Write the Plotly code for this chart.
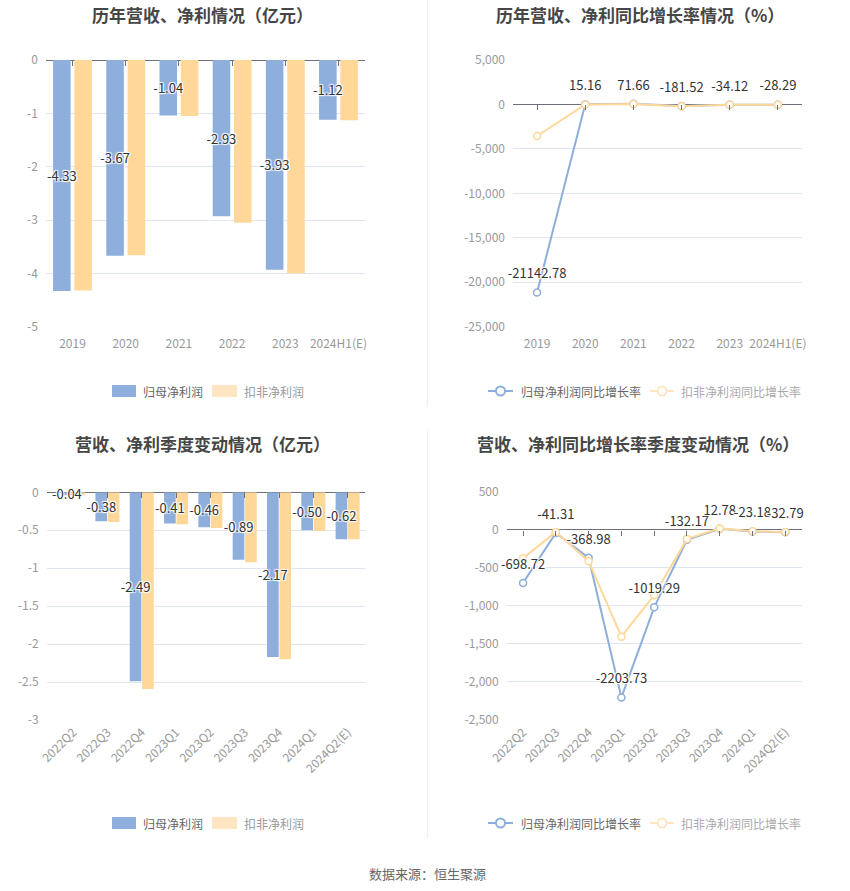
import plotly.graph_objects as go

# ---------------- data ----------------
years = ["2019", "2020", "2021", "2022", "2023", "2024H1(E)"]
np_year = [-4.33, -3.67, -1.04, -2.93, -3.93, -1.12]
kf_year = [-4.32, -3.66, -1.05, -3.05, -4.00, -1.13]

np_yoy = [-21142.78, 15.16, 71.66, -181.52, -34.12, -28.29]
kf_yoy = [-3550.0, 5.0, 60.0, -205.0, -30.0, -30.0]

quarters = ["2022Q2", "2022Q3", "2022Q4", "2023Q1", "2023Q2", "2023Q3",
            "2023Q4", "2024Q1", "2024Q2(E)"]
np_q = [-0.04, -0.38, -2.49, -0.41, -0.46, -0.89, -2.17, -0.50, -0.62]
kf_q = [-0.04, -0.39, -2.59, -0.42, -0.47, -0.92, -2.20, -0.51, -0.62]

np_q_yoy = [-698.72, -41.31, -368.98, -2203.73, -1019.29, -132.17, 12.78, -23.18, -32.79]
kf_q_yoy = [-375.0, -28.0, -415.0, -1405.0, -860.0, -120.0, 18.0, -20.0, -30.0]

titles = ["历年营收、净利情况（亿元）", "历年营收、净利同比增长率情况（%）",
          "营收、净利季度变动情况（亿元）", "营收、净利同比增长率季度变动情况（%）"]
bar_names = ["归母净利润", "扣非净利润"]
line_names = ["归母净利润同比增长率", "扣非净利润同比增长率"]
source_text = "数据来源：恒生聚源"

# ---------------- style ----------------
W, H = 850, 891
BLUE = "#8eaedb"
ORANGE = "#ffd899"
ORANGE_LEG = "#ffe6c2"
GRID = "#e0e6f1"
AXIS = "#6e7079"
TICK = "#999999"
FONT = "Noto Sans CJK SC, Microsoft YaHei, sans-serif"
SHADOW = "1px 1px 1px #fff, -1px -1px 1px #fff, 1px -1px 1px #fff, -1px 1px 1px #fff"


def px_x(x):
    return x / W


def px_y(y):
    return 1 - y / H


def fmt(v):
    return f"{v:.2f}"


def ticktexts(vals, comma=False):
    out = []
    for v in vals:
        s = f"{abs(v):,.0f}" if comma else f"{abs(v):g}"
        out.append(("-" if v < 0 else "") + s)
    return out


LABEL_FONT = dict(color="#333", size=13, shadow=SHADOW, family=FONT)
fig = go.Figure()

# ---- top-left bars (orange first so blue labels sit on top) ----
fig.add_trace(go.Bar(x=years, y=kf_year, name=bar_names[1], marker_color=ORANGE,
                     width=0.33, offset=0.035, xaxis="x", yaxis="y", showlegend=False))
fig.add_trace(go.Bar(x=years, y=np_year, name=bar_names[0], marker_color=BLUE,
                     width=0.33, offset=-0.365, text=[fmt(v) for v in np_year],
                     textposition="inside", insidetextanchor="middle", textangle=0,
                     constraintext="none", cliponaxis=False, textfont=LABEL_FONT,
                     xaxis="x", yaxis="y", showlegend=False))

# ---- top-right lines ----
fig.add_trace(go.Scatter(x=years, y=np_yoy, name=line_names[0], mode="lines+markers",
                         line=dict(color=BLUE, width=2),
                         marker=dict(symbol="circle", size=7, color="white",
                                     line=dict(color=BLUE, width=1.5)),
                         cliponaxis=False, xaxis="x2", yaxis="y2", showlegend=False))
fig.add_trace(go.Scatter(x=years, y=kf_yoy, name=line_names[1], mode="lines+markers",
                         line=dict(color=ORANGE, width=2),
                         marker=dict(symbol="circle", size=7, color="white",
                                     line=dict(color=ORANGE, width=1.5)),
                         cliponaxis=False, xaxis="x2", yaxis="y2", showlegend=False))
fig.add_trace(go.Scatter(x=years, y=np_yoy, mode="markers+text",
                         marker=dict(size=16, color="rgba(0,0,0,0)"),
                         text=[fmt(v) for v in np_yoy], textposition="top center",
                         textfont=LABEL_FONT, cliponaxis=False,
                         xaxis="x2", yaxis="y2", showlegend=False, hoverinfo="skip"))

# ---- bottom-left bars ----
fig.add_trace(go.Bar(x=quarters, y=kf_q, name=bar_names[1], marker_color=ORANGE,
                     width=0.34, offset=0.01, xaxis="x3", yaxis="y3", showlegend=False))
fig.add_trace(go.Bar(x=quarters, y=np_q, name=bar_names[0], marker_color=BLUE,
                     width=0.34, offset=-0.35, text=[fmt(v) for v in np_q],
                     textposition="inside", insidetextanchor="middle", textangle=0,
                     constraintext="none", cliponaxis=False, textfont=LABEL_FONT,
                     xaxis="x3", yaxis="y3", showlegend=False))

# ---- bottom-right lines ----
fig.add_trace(go.Scatter(x=quarters, y=np_q_yoy, name=line_names[0], mode="lines+markers",
                         line=dict(color=BLUE, width=2),
                         marker=dict(symbol="circle", size=7, color="white",
                                     line=dict(color=BLUE, width=1.5)),
                         cliponaxis=False, xaxis="x4", yaxis="y4", showlegend=False))
fig.add_trace(go.Scatter(x=quarters, y=kf_q_yoy, name=line_names[1], mode="lines+markers",
                         line=dict(color=ORANGE, width=2),
                         marker=dict(symbol="circle", size=7, color="white",
                                     line=dict(color=ORANGE, width=1.5)),
                         cliponaxis=False, xaxis="x4", yaxis="y4", showlegend=False))
fig.add_trace(go.Scatter(x=quarters, y=np_q_yoy, mode="markers+text",
                         marker=dict(size=16, color="rgba(0,0,0,0)"),
                         text=[fmt(v) for v in np_q_yoy], textposition="top center",
                         textfont=LABEL_FONT, cliponaxis=False,
                         xaxis="x4", yaxis="y4", showlegend=False, hoverinfo="skip"))

# dummy traces for the zero-line tick axes
for xa, ya in [("x5", "y"), ("x6", "y2"), ("x7", "y3"), ("x8", "y4")]:
    fig.add_trace(go.Scatter(x=[None], y=[None], xaxis=xa, yaxis=ya,
                             showlegend=False, hoverinfo="skip"))

# ---------------- axes ----------------
panels = {
    "1": ((45.9, 365.1), (60, 326.7), (-5, 0), 1, False, years, (-0.5, 5.5), 0),
    "2": ((513, 802), (60, 326.7), (-25000, 5000), 5000, True, years, (-0.5, 5.5), 0),
    "3": ((46.7, 364.8), (492.3, 720), (-3, 0), 0.5, False, quarters, (-0.77, 8.5), -45),
    "4": ((506.7, 801.7), (491.7, 720), (-2500, 500), 500, True, quarters, (-0.5, 8.5), -45),
}

layout_axes = {}
for i, (k, (xd, yd, yr, dt, comma, cats, xr, ang)) in enumerate(panels.items()):
    suffix = "" if k == "1" else k
    xdom = [px_x(xd[0]), px_x(xd[1])]
    ydom = [px_y(yd[1]), px_y(yd[0])]
    n = int(round((yr[1] - yr[0]) / dt))
    tv = [yr[0] + dt * j for j in range(n + 1)]
    layout_axes["xaxis" + suffix] = dict(
        domain=xdom, type="category", categoryorder="array", categoryarray=cats,
        range=list(xr), anchor="y" + suffix, showgrid=False, zeroline=False,
        showline=False, ticks="", tickangle=ang, automargin=False,
        ticklabelstandoff=8 if ang == 0 else 2,
        tickfont=dict(color=TICK, size=12, family=FONT), fixedrange=True)
    layout_axes["yaxis" + suffix] = dict(
        domain=ydom, range=list(yr), anchor="x" + suffix, tickvals=tv,
        ticktext=ticktexts(tv, comma), showgrid=True, gridcolor=GRID, gridwidth=1,
        zeroline=True, zerolinecolor=AXIS, zerolinewidth=1, showline=False, ticks="",
        ticklabelstandoff=7, automargin=False,
        tickfont=dict(color=TICK, size=12, family=FONT), fixedrange=True)
    zero_px = yd[0] + (yr[1] - 0) / (yr[1] - yr[0]) * (yd[1] - yd[0])
    layout_axes["xaxis" + str(5 + i)] = dict(
        overlaying="x" + suffix, anchor="free", position=px_y(zero_px),
        side="bottom", type="linear", range=list(xr), automargin=False,
        tickvals=list(range(len(cats))), showticklabels=False, ticks="outside",
        ticklen=5, tickwidth=1, tickcolor=AXIS, showgrid=False, zeroline=False,
        showline=False, fixedrange=True)

fig.update_layout(**layout_axes)

# ---------------- annotations / shapes ----------------
ann = []
shapes = []
title_pos = [(202, 14), (640, 14), (202, 444), (638, 444)]
for t, (cx, cy) in zip(titles, title_pos):
    ann.append(dict(text=f"<b>{t}</b>", x=px_x(cx), y=px_y(cy), xref="paper", yref="paper",
                    xanchor="center", yanchor="middle", showarrow=False,
                    font=dict(size=17, color="#464646", family=FONT)))

for ly in (391, 823):
    shapes.append(dict(type="rect", xref="paper", yref="paper", x0=px_x(112), x1=px_x(136),
                       y0=px_y(ly + 6), y1=px_y(ly - 6), fillcolor=BLUE, line=dict(width=0)))
    shapes.append(dict(type="rect", xref="paper", yref="paper", x0=px_x(212), x1=px_x(237),
                       y0=px_y(ly + 6), y1=px_y(ly - 6), fillcolor=ORANGE_LEG, line=dict(width=0)))
    ann.append(dict(text=bar_names[0], x=px_x(141), y=px_y(ly), xref="paper", yref="paper",
                    xanchor="left", yanchor="middle", showarrow=False,
                    font=dict(size=12, color="#666", family=FONT)))
    ann.append(dict(text=bar_names[1], x=px_x(242), y=px_y(ly), xref="paper", yref="paper",
                    xanchor="left", yanchor="middle", showarrow=False,
                    font=dict(size=12, color="#999", family=FONT)))
    for (x0, x1, tx, col, tcol, name) in [(488, 513, 519, BLUE, "#666", line_names[0]),
                                          (650, 674, 679, ORANGE_LEG, "#aaa", line_names[1])]:
        shapes.append(dict(type="line", xref="paper", yref="paper", x0=px_x(x0), x1=px_x(x1),
                           y0=px_y(ly), y1=px_y(ly), line=dict(color=col, width=2)))
        cxm = (x0 + x1) / 2
        shapes.append(dict(type="circle", xref="paper", yref="paper",
                           x0=px_x(cxm - 4.5), x1=px_x(cxm + 4.5),
                           y0=px_y(ly + 4.5), y1=px_y(ly - 4.5),
                           fillcolor="white", line=dict(color=col, width=2)))
        ann.append(dict(text=name, x=px_x(tx), y=px_y(ly), xref="paper", yref="paper",
                        xanchor="left", yanchor="middle", showarrow=False,
                        font=dict(size=12, color=tcol, family=FONT)))

shapes.append(dict(type="line", xref="paper", yref="paper", x0=px_x(427.3), x1=px_x(427.3),
                   y0=px_y(0), y1=px_y(407), line=dict(color="#eeeeee", width=1)))
shapes.append(dict(type="line", xref="paper", yref="paper", x0=px_x(427.3), x1=px_x(427.3),
                   y0=px_y(431), y1=px_y(838), line=dict(color="#eeeeee", width=1)))

ann.append(dict(text=source_text, x=px_x(427), y=px_y(873), xref="paper", yref="paper",
                xanchor="center", yanchor="middle", showarrow=False,
                font=dict(size=13, color="#666", family=FONT)))

fig.update_layout(
    template="none",
    width=W, height=H, margin=dict(l=0, r=0, t=0, b=0, pad=0, autoexpand=False),
    paper_bgcolor="white", plot_bgcolor="white",
    barmode="group", showlegend=False,
    font=dict(family=FONT, size=12, color="#333"),
    annotations=ann, shapes=shapes,
)

fig.write_html("out.html", config={"displayModeBar": False},
               post_script="document.body.style.margin='0';document.body.style.overflow='hidden';")
